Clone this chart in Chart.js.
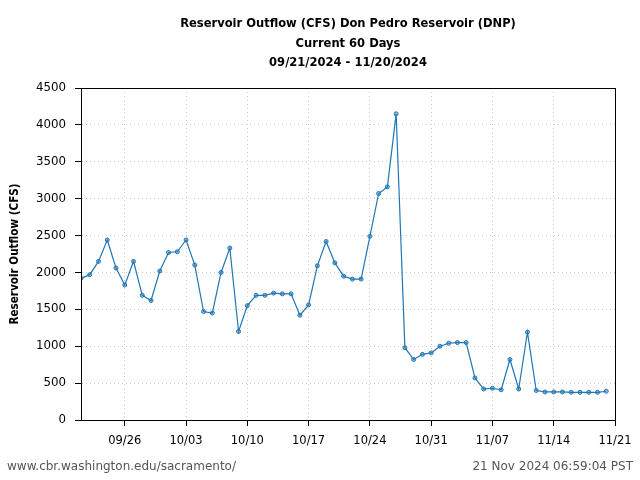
<!DOCTYPE html>
<html>
<head>
<meta charset="utf-8">
<script src="https://cdn.jsdelivr.net/npm/chart.js@4"></script>
<style>
  html, body { margin: 0; padding: 0; background: #fff; }
  #wrap { position: relative; width: 640px; height: 480px; }
  #title { position: absolute; left: 148px; width: 400px; top: 13px; text-align: center;
           font: bold 12.8px/19.5px "DejaVu Sans Condensed", "DejaVu Sans", sans-serif; color: #000; }
  .foot { position: absolute; top: 459px; font: 12px "DejaVu Sans", sans-serif; color: #555; }
</style>
</head>
<body>
<div id="wrap">
  <canvas id="c" width="640" height="480"></canvas>
  <div id="title">Reservoir Outflow (CFS) Don Pedro Reservoir (DNP)<br>Current 60 Days<br>09/21/2024 - 11/20/2024</div>
  <div class="foot" style="left:7px">www.cbr.washington.edu/sacramento/</div>
  <div class="foot" style="right:7px">21 Nov 2024 06:59:04 PST</div>
</div>
<script>
// daily outflow (CFS), 09/21/2024 .. 11/20/2024
const outflow = [
  1920, 1970, 2150, 2440, 2060, 1830, 2150, 1690, 1620, 2020,
  2270, 2280, 2440, 2100, 1470, 1450, 2000, 2330, 1200, 1550,
  1690, 1690, 1720, 1710, 1710, 1420, 1560, 2090, 2420, 2130,
  1950, 1910, 1910, 2490, 3070, 3160, 4150, 980, 820, 890,
  910, 1000, 1040, 1050, 1050, 570, 420, 430, 410, 820,
  420, 1190, 400, 380, 380, 380, 375, 375, 375, 375, 390
];
// tick labels and their day offsets from 09/21
const tickDays = [5, 12, 19, 26, 33, 40, 47, 54, 61];
const tickLabels = ['09/26', '10/03', '10/10', '10/17', '10/24', '10/31', '11/07', '11/14', '11/21'];
const yTicks = [0, 500, 1000, 1500, 2000, 2500, 3000, 3500, 4000, 4500];

const points = outflow.map((v, i) => ({ x: i, y: v }));

const boxPlugin = {
  id: 'box',
  afterDraw(chart) {
    const a = chart.chartArea, ctx = chart.ctx;
    ctx.save();
    ctx.strokeStyle = '#000';
    ctx.lineWidth = 1;
    ctx.strokeRect(Math.round(a.left) + 0.5, Math.round(a.top) + 0.5,
      Math.round(a.right - a.left), Math.round(a.bottom - a.top));
    ctx.restore();
  }
};

new Chart(document.getElementById('c'), {
  type: 'line',
  data: {
    datasets: [{
      data: points,
      borderColor: '#1f77b4',
      borderWidth: 1.2,
      pointRadius: 2,
      pointBackgroundColor: 'rgba(31,119,180,0.45)',
      pointBorderColor: '#1f77b4',
      pointBorderWidth: 1,
      tension: 0
    }]
  },
  options: {
    responsive: false,
    animation: false,
    layout: { padding: { left: 0, right: 25, top: 88, bottom: 25 } },
    plugins: {
      legend: { display: false },
      tooltip: { enabled: false },
      title: { display: false }
    },
    scales: {
      x: {
        type: 'linear',
        min: 0,
        max: 61,
        afterBuildTicks: s => { s.ticks = tickDays.map(v => ({ value: v })); },
        afterFit: s => { s.height = 35; },
        ticks: {
          callback: v => tickLabels[tickDays.indexOf(v)],
          color: '#000',
          font: { family: '"DejaVu Sans"', size: 11.5 },
          padding: 8,
          maxRotation: 0
        },
        grid: { color: '#cccccc', tickColor: '#000', tickLength: 6, tickBorderDash: [] },
        border: { display: true, color: '#000', dash: [1, 3] }
      },
      y: {
        min: 0,
        max: 4500,
        afterBuildTicks: s => { s.ticks = yTicks.map(v => ({ value: v })); },
        afterFit: s => { s.width = 81; },
        ticks: {
          callback: v => String(v),
          color: '#000',
          font: { family: '"DejaVu Sans"', size: 11.8 },
          padding: 9
        },
        title: {
          display: true,
          text: 'Reservoir Outflow (CFS)',
          color: '#000',
          font: { family: '"DejaVu Sans Condensed", "DejaVu Sans"', size: 11.6, weight: 'bold' },
          padding: { top: 8, bottom: 0 }
        },
        grid: { color: '#cccccc', tickColor: '#000', tickLength: 6, tickBorderDash: [] },
        border: { display: true, color: '#000', dash: [1, 3] }
      }
    }
  },
  plugins: [boxPlugin]
});
</script>
</body>
</html>
